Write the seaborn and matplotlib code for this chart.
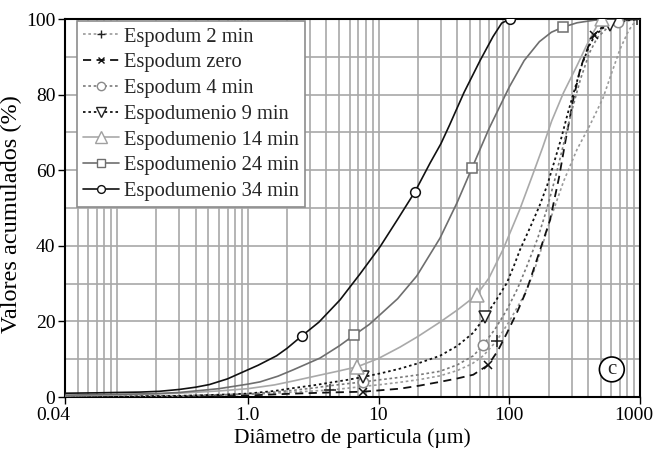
import numpy as np
import matplotlib
matplotlib.use("Agg")
import matplotlib.pyplot as plt
import matplotlib.transforms as mtransforms
import seaborn as sns
from matplotlib.lines import Line2D
from matplotlib.ticker import FixedLocator, LogLocator, MultipleLocator, NullFormatter

sns.set_theme(style="white")
plt.rcParams['font.family'] = ['Liberation Serif', 'DejaVu Serif']

# ---------------- data ----------------
labels = ["Espodum 2 min", "Espodum zero", "Espodum 4 min", "Espodumenio 9 min",
          "Espodumenio 14 min", "Espodumenio 24 min", "Espodumenio 34 min"]

x_2min = [0.04, 0.3, 1.0, 1.6, 2.27, 3.2, 4.26, 5.7, 7.65, 10.5, 14.6, 20.5, 29.5, 40, 52, 63.3,
          80.2, 100, 128, 150, 170, 190, 211, 260, 330, 415, 520, 611, 703, 820, 944, 1000]
y_2min = [0.1, 0.3, 0.7, 1.0, 1.3, 1.6, 1.85, 2.3, 2.8, 3.3, 3.9, 4.6, 5.6, 7.0, 8.8, 10.9,
          14.9, 20, 26.5, 32, 37.5, 43, 48, 57, 65.5, 72, 79, 86, 92, 97, 99.9, 100]
m_2min = [4.26, 80.2, 944]

x_zero = [0.04, 0.3, 1.0, 2.27, 4.26, 7.65, 10.5, 14.6, 20.5, 29.5, 40, 53.1, 69.2, 82, 95.6,
          115, 136, 165, 205, 240, 270, 310, 350, 400, 445, 520, 600, 800, 1000]
y_zero = [0.0, 0.1, 0.4, 0.9, 1.2, 1.4, 1.8, 2.2, 3.0, 4.0, 4.9, 5.9, 8.5, 12.3, 16.8,
          22.5, 28.3, 37, 46.8, 58, 68, 79, 87, 92.5, 95.8, 98, 99, 99.8, 100]
m_zero = [7.65, 69.2, 445]

x_4min = [0.04, 0.3, 1.0, 1.6, 2.27, 3.2, 4.26, 5.7, 7.6, 10.5, 14.6, 20.5, 29.5, 40, 53.1,
          63.3, 78, 95.6, 115, 136, 165, 193, 225, 265, 305, 350, 410, 470, 560, 679, 850, 1000]
y_4min = [0.1, 0.3, 0.8, 1.3, 1.8, 2.4, 3.0, 3.5, 4.0, 4.6, 5.2, 5.9, 6.8, 8.5, 10.9,
          13.8, 18, 23, 28.5, 34.5, 42, 49.5, 58, 68, 76.5, 84, 91, 95, 97.6, 99.2, 99.8, 100]
m_4min = [7.6, 63.3, 679]

x_9min = [0.04, 0.1, 0.3, 0.6, 1.0, 1.6, 2.27, 3.2, 4.26, 5.7, 7.65, 10.5, 14.6, 20.5, 29.5,
          40, 53.1, 65.2, 80, 95.6, 108, 121, 145, 170, 195, 220, 250, 280, 320, 360, 410,
          450, 520, 590, 800, 1000]
y_9min = [0.1, 0.15, 0.3, 0.6, 0.9, 1.6, 2.4, 3.1, 3.8, 4.5, 5.3, 6.3, 7.5, 9.0, 10.9,
          13.5, 17.0, 21.2, 25.8, 30.1, 34.5, 39, 45, 50.5, 56, 62, 68.5, 75, 82, 88, 93,
          95.5, 97.6, 98.4, 99.6, 100]
m_9min = [7.65, 65.2, 590]

x_14min = [0.04, 0.1, 0.3, 0.6, 1.0, 1.6, 2.27, 3.57, 5, 6.88, 10, 14.6, 20, 29.5, 40, 56.4,
           70, 89.6, 120, 150, 180, 211, 260, 328, 390, 440, 480, 510, 1000]
y_14min = [0.3, 0.5, 1.0, 1.6, 2.2, 3.2, 4.3, 5.8, 6.9, 8.0, 10.2, 13.2, 16, 19.8, 23, 27.0,
           31.5, 39, 49.5, 58.5, 66, 73, 80.5, 87.5, 93, 96.5, 98.8, 100, 100]
m_14min = [6.88, 56.4, 510]

x_24min = [0.04, 0.1, 0.2, 0.3, 0.6, 1.0, 1.24, 1.7, 2.23, 3.57, 5, 6.53, 8.5, 10.3, 14, 19.6,
           29.5, 40, 51.9, 70, 100, 130, 170, 210, 256, 330, 450, 1000]
y_24min = [0.5, 0.7, 0.9, 1.2, 2.2, 3.4, 4.0, 5.5, 7.2, 10.3, 13.5, 16.4, 19.2, 21.8, 26, 32,
           42, 51.5, 60.6, 71, 82, 89, 94, 96.5, 97.8, 99, 99.7, 100]
m_24min = [6.53, 51.9, 256]

x_34min = [0.04, 0.07, 0.1, 0.15, 0.21, 0.3, 0.4, 0.51, 0.7, 0.93, 1.2, 1.66, 2.0, 2.58, 3.5,
           5.08, 7.2, 10.3, 14, 19.0, 24.8, 30, 35, 45, 59.8, 75, 87.5, 101, 130, 1000]
y_34min = [1.0, 1.1, 1.2, 1.3, 1.5, 2.0, 2.6, 3.3, 4.8, 6.7, 8.4, 10.9, 12.9, 16.1, 19.8,
           25.7, 32.5, 39.8, 47, 54.3, 61.9, 67, 72, 80.5, 89, 95.3, 98.9, 100, 100, 100]
m_34min = [2.58, 19.0, 101]

x_ticks = [0.04, 1, 10, 100, 1000]
x_ticklabels = ["0.04", "1.0", "10", "100", "1000"]
y_ticks = [0, 20, 40, 60, 80, 100]

# ---------------- styles ----------------
styles = [
    dict(color="#9a9a9a", ls=(0, (1.6, 1.6)), lw=1.2, marker="+", mec="#222222", mfc="none", ms=8),
    dict(color="#111111", ls=(0, (4.5, 3)), lw=1.3, marker="x", mec="#111111", mfc="none", ms=6),
    dict(color="#7a7a7a", ls=(0, (1.6, 1.6)), lw=1.2, marker="o", mec="#8a8a8a", mfc="white", ms=7.5),
    dict(color="#111111", ls=(0, (1.4, 1.6)), lw=1.3, marker="v", mec="#222222", mfc="white", ms=9),
    dict(color="#a9a9a9", ls="-", lw=1.2, marker="^", mec="#a0a0a0", mfc="white", ms=10),
    dict(color="#6e6e6e", ls="-", lw=1.2, marker="s", mec="#6e6e6e", mfc="white", ms=7),
    dict(color="#111111", ls="-", lw=1.2, marker="o", mec="#111111", mfc="white", ms=7),
]
series = [(x_2min, y_2min, m_2min), (x_zero, y_zero, m_zero), (x_4min, y_4min, m_4min),
          (x_9min, y_9min, m_9min), (x_14min, y_14min, m_14min), (x_24min, y_24min, m_24min),
          (x_34min, y_34min, m_34min)]

fig = plt.figure(figsize=(6.58, 4.5), dpi=100)
ax = fig.add_axes([65 / 658, 1 - 397 / 450, 575 / 658, 378 / 450])
ax.set_xscale("log")

handles = []
for (xs, ys, ms), st, lab in zip(series, styles, labels):
    sns.lineplot(x=xs, y=ys, ax=ax, color=st["color"], linestyle=st["ls"], lw=st["lw"],
                 estimator=None, sort=False, zorder=3)
    my = [ys[xs.index(v)] for v in ms]
    sns.lineplot(x=ms, y=my, ax=ax, linestyle="none", marker=st["marker"], markersize=st["ms"],
                 markerfacecolor=st["mfc"], markeredgecolor=st["mec"], markeredgewidth=1.1,
                 estimator=None, sort=False, zorder=4)
    handles.append(Line2D([], [], color=st["color"], linestyle=st["ls"], lw=st["lw"],
                          marker=st["marker"], markersize=st["ms"] * 0.8,
                          markerfacecolor=st["mfc"], markeredgecolor=st["mec"], markeredgewidth=1.0))

ax.set_xlim(0.04, 1000)
ax.set_ylim(0, 100)
ax.xaxis.set_major_locator(FixedLocator(x_ticks))
ax.set_xticklabels(x_ticklabels)
ax.xaxis.set_minor_locator(LogLocator(base=10, subs=np.arange(1, 10), numticks=30))
ax.xaxis.set_minor_formatter(NullFormatter())
ax.yaxis.set_major_locator(FixedLocator(y_ticks))
ax.yaxis.set_minor_locator(MultipleLocator(10))

ax.set_axisbelow(True)
ax.grid(which="both", axis="both", color="#a8a8a8", lw=1.2)
ax.tick_params(which="major", direction="out", length=5, width=1, colors="black",
               labelsize=14, left=True, bottom=True, pad=2)
ax.tick_params(which="minor", length=0)
for sp in ax.spines.values():
    sp.set_color("black")
    sp.set_linewidth(1.5)

# shift end tick labels slightly inward as in the reference
xtl = ax.get_xticklabels()
xtl[0].set_transform(xtl[0].get_transform() + mtransforms.ScaledTranslation(-12 / 100, 0, fig.dpi_scale_trans))
xtl[-1].set_transform(xtl[-1].get_transform() + mtransforms.ScaledTranslation(-6 / 100, 0, fig.dpi_scale_trans))

ax.set_xlabel("Diâmetro de particula (µm)", fontsize=15.5, labelpad=3, color="black")
ax.set_ylabel("Valores acumulados (%)", fontsize=17.5, color="black")
ax.yaxis.set_label_coords(-43 / 575, 0.484)

leg = ax.legend(handles, labels, loc="upper left", bbox_to_anchor=(12 / 575, 376 / 378),
                borderaxespad=0, frameon=True, fancybox=False, edgecolor="#8c8c8c",
                framealpha=1, fontsize=14.8, handlelength=1.75, handletextpad=0.25,
                borderpad=0.3, labelspacing=0.31)
leg.get_frame().set_linewidth(1.2)
leg.set_zorder(5)

ax.text(0.951, 0.073, "c", transform=ax.transAxes, ha="center", va="center", fontsize=15,
        zorder=6, bbox=dict(boxstyle="circle,pad=0.14", fc="white", ec="black", lw=1.2))

fig.savefig("out.png", dpi=100)
